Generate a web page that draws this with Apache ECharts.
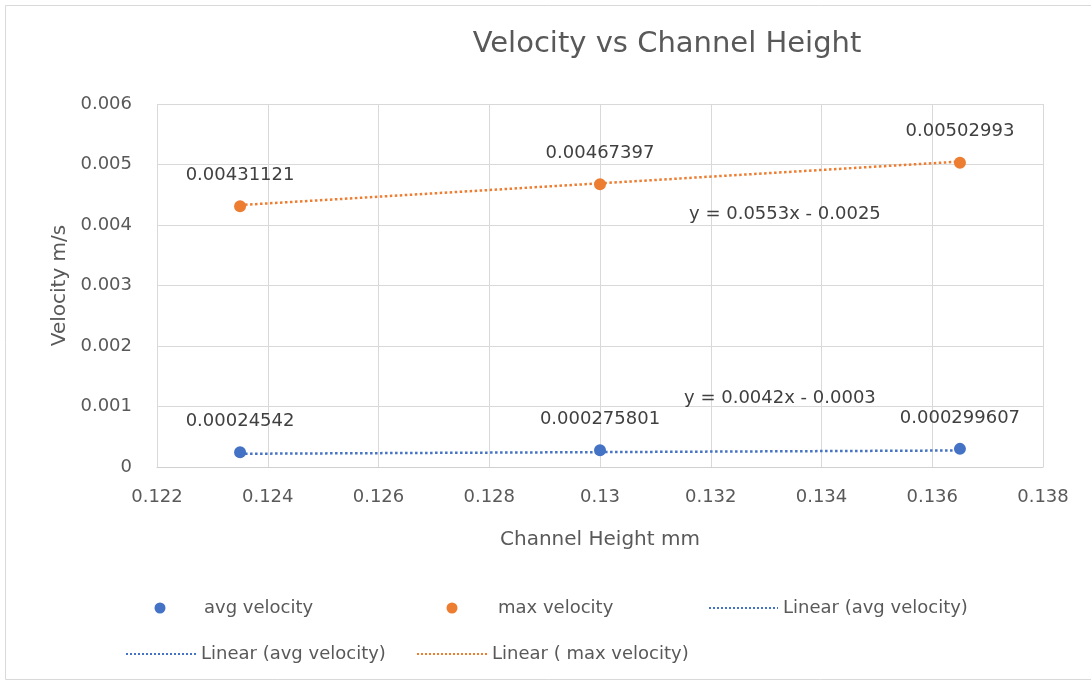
<!DOCTYPE html>
<html>
<head>
<meta charset="utf-8">
<style>
  html, body { margin: 0; padding: 0; background: #ffffff; }
  #chart { width: 1091px; height: 685px; }
</style>
<script src="https://cdn.jsdelivr.net/npm/echarts@6/dist/echarts.min.js"></script>
</head>
<body>
<div id="chart"></div>
<script>
// Channel height (mm) for each measurement
const channelHeight = [0.1235, 0.13, 0.1365];
// Measured velocities (m/s)
const avgVelocity = [0.00024542, 0.000275801, 0.000299607];
const maxVelocity = [0.00431121, 0.00467397, 0.00502993];
// Linear trendline coefficients [slope, intercept]
const avgTrend = [0.0042, -0.0003];
const maxTrend = [0.0553, -0.0025];
// Axis ranges [min, max, interval]
const xTicks = [0.122, 0.138, 0.002];
const yTicks = [0, 0.006, 0.001];

const BLUE = '#4472C4';
const ORANGE = '#ED7D31';
const TEXT = '#595959';
const FONT = 'DejaVu Sans';

const pairs = ys => channelHeight.map((x, i) => [x, ys[i]]);
const xFirst = channelHeight[0];
const xLast = channelHeight[channelHeight.length - 1];
const trendLine = c => [[xFirst, c[0] * xFirst + c[1]], [xLast, c[0] * xLast + c[1]]];
const eqText = c => 'y = ' + c[0].toFixed(4) + 'x ' + (c[1] < 0 ? '- ' : '+ ') + Math.abs(c[1]).toFixed(4);

const pointLabel = {
  show: true,
  position: 'top',
  distance: 16,
  color: '#404040',
  fontFamily: FONT,
  fontSize: 18,
  formatter: p => String(p.value[1])
};

const legendText = { color: TEXT, fontFamily: FONT, fontSize: 18 };
function legendAt(name, left, top, w, h, extra) {
  return Object.assign({
    left: left, top: top, padding: 0,
    itemWidth: w, itemHeight: h,
    selectedMode: false,
    textStyle: legendText,
    data: [name]
  }, extra || {});
}
// dotted-line legend entries show the line only
const lineOnly = { itemStyle: { opacity: 0 } };

const chart = echarts.init(document.getElementById('chart'), null, { renderer: 'canvas' });
chart.setOption({
  backgroundColor: '#ffffff',
  animation: false,
  title: {
    text: 'Velocity vs Channel Height',
    left: 662,
    top: 25,
    textAlign: 'center',
    textStyle: { color: TEXT, fontFamily: FONT, fontSize: 29, fontWeight: 'normal' }
  },
  graphic: [{
    type: 'rect',
    shape: { x: 5.5, y: 5.5, width: 1100, height: 674 },
    style: { fill: 'none', stroke: '#d9d9d9', lineWidth: 1 },
    silent: true,
    z: -1
  }],
  legend: [
    legendAt('avg velocity', 154.5, 599, 78, 11, { data: [{ name: 'avg velocity', icon: 'circle' }] }),
    legendAt('max velocity', 446.5, 599, 82, 11, { data: [{ name: 'max velocity', icon: 'circle' }] }),
    legendAt('Linear (avg velocity)', 708, 599, 69, 14, lineOnly),
    legendAt('Linear (avg velocity)', 125, 645, 70, 14, lineOnly),
    legendAt('Linear ( max velocity)', 416, 645, 70, 14, lineOnly)
  ],
  grid: { left: 157, right: 48, top: 104, bottom: 218, containLabel: false },
  xAxis: {
    type: 'value',
    min: xTicks[0], max: xTicks[1], interval: xTicks[2],
    name: 'Channel Height mm',
    nameLocation: 'middle',
    nameGap: 63,
    nameTextStyle: { color: TEXT, fontFamily: FONT, fontSize: 20 },
    axisLine: { show: true, lineStyle: { color: '#d0d0d0', width: 1 } },
    axisTick: { show: false },
    axisLabel: {
      color: TEXT, fontFamily: FONT, fontSize: 18, margin: 21,
      formatter: v => String(parseFloat(v.toFixed(4)))
    },
    splitLine: { show: true, lineStyle: { color: '#d9d9d9', width: 1 } }
  },
  yAxis: {
    type: 'value',
    min: yTicks[0], max: yTicks[1], interval: yTicks[2],
    name: 'Velocity m/s',
    nameLocation: 'middle',
    nameGap: 86,
    nameTextStyle: { color: TEXT, fontFamily: FONT, fontSize: 20 },
    axisLine: { show: false },
    axisTick: { show: false },
    axisLabel: {
      color: TEXT, fontFamily: FONT, fontSize: 18, margin: 25,
      formatter: v => (v === 0 ? '0' : v.toFixed(3))
    },
    splitLine: { show: true, lineStyle: { color: '#d9d9d9', width: 1 } }
  },
  series: [
    {
      name: 'Linear (avg velocity)',
      type: 'line',
      data: trendLine(avgTrend),
      symbol: 'none',
      lineStyle: { color: BLUE, width: 2.5, type: 'dotted' },
      itemStyle: { color: BLUE },
      endLabel: {
        show: true,
        formatter: () => eqText(avgTrend),
        color: '#404040', fontFamily: FONT, fontSize: 18,
        distance: 0, align: 'center', verticalAlign: 'middle',
        offset: [-180, -52]
      },
      z: 2
    },
    {
      name: 'Linear ( max velocity)',
      type: 'line',
      data: trendLine(maxTrend),
      symbol: 'none',
      lineStyle: { color: ORANGE, width: 2.5, type: 'dotted' },
      itemStyle: { color: ORANGE },
      endLabel: {
        show: true,
        formatter: () => eqText(maxTrend),
        color: '#404040', fontFamily: FONT, fontSize: 18,
        distance: 0, align: 'center', verticalAlign: 'middle',
        offset: [-175, 53]
      },
      z: 2
    },
    {
      name: 'avg velocity',
      type: 'scatter',
      data: pairs(avgVelocity),
      symbol: 'circle',
      symbolSize: 12,
      itemStyle: { color: BLUE, opacity: 1 },
      label: pointLabel,
      z: 3
    },
    {
      name: 'max velocity',
      type: 'scatter',
      data: pairs(maxVelocity),
      symbol: 'circle',
      symbolSize: 12,
      itemStyle: { color: ORANGE, opacity: 1 },
      label: pointLabel,
      z: 3
    }
  ]
});
</script>
</body>
</html>
